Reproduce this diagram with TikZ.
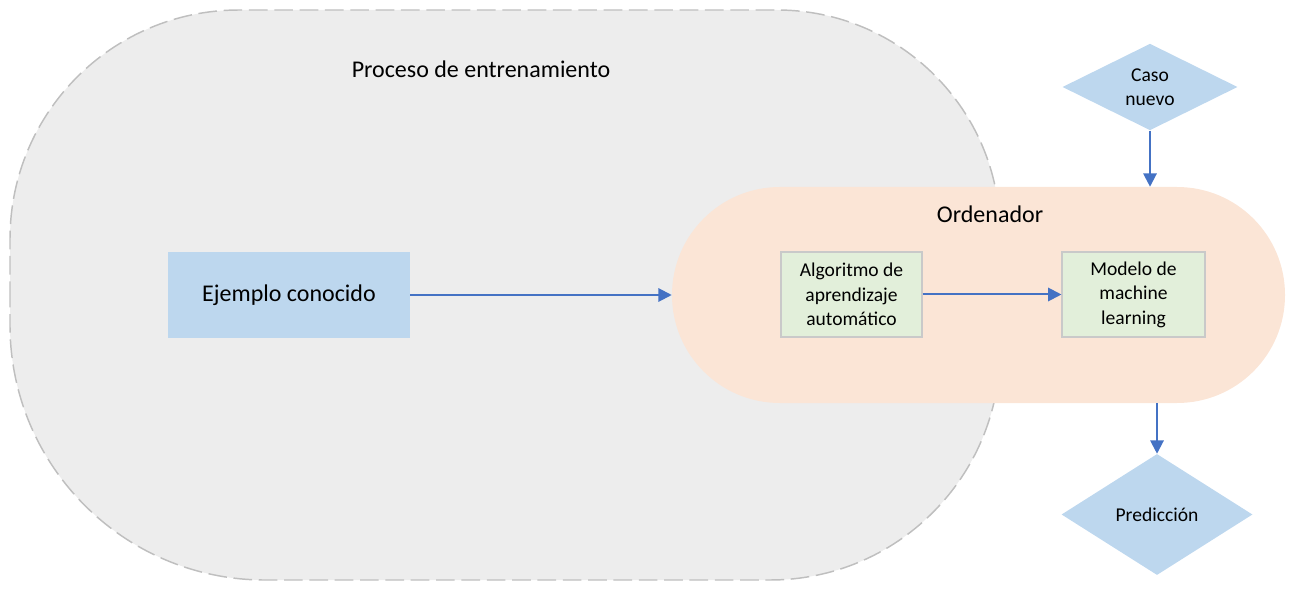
\documentclass[tikz,border=0pt]{standalone}
\usepackage{fontspec}
\setmainfont{Carlito}
\usetikzlibrary{shapes.geometric,arrows.meta}
\definecolor{grayfill}{HTML}{EDEDED}
\definecolor{grayline}{HTML}{BFBFBF}
\definecolor{orangefill}{HTML}{FBE5D6}
\definecolor{bluefill}{HTML}{BDD7EE}
\definecolor{greenfill}{HTML}{E2EFDA}
\definecolor{greenline}{HTML}{C9C9C9}
\definecolor{arrowblue}{HTML}{4472C4}
\tikzset{
  bigfont/.style={font=\fontsize{18}{22}\selectfont},
  smallfont/.style={font=\fontsize{14.67}{18.4}\selectfont},
  container/.style={fill=grayfill, draw=grayline, line width=1.1pt, dash pattern=on 14pt off 5pt},
  computer/.style={rectangle, fill=orangefill, rounded corners=80.9pt},
  inputbox/.style={rectangle, fill=bluefill, bigfont, inner sep=0pt},
  stagebox/.style={rectangle, fill=greenfill, draw=greenline, line width=0.8pt, smallfont, align=center, inner sep=0pt},
  io/.style={diamond, fill=bluefill, smallfont, align=center, inner sep=0pt},
  flow/.style={draw=arrowblue, line width=1.5pt, -{Triangle[length=10pt,width=10pt]}},
}
\begin{document}
\begin{tikzpicture}[x=0.75pt,y=-0.75pt]
\useasboundingbox (0,0) rectangle (1294,591);
\path[container] (10,300) -- (10,239) arc[start angle=180, end angle=90, radius=171.75pt]
  -- (777,10) arc[start angle=90, end angle=0, radius=167.25pt]
  -- (1000,350) arc[start angle=0, end angle=-90, radius=172.5pt]
  -- (265,580) arc[start angle=-90, end angle=-180, radius=191.25pt]
  -- cycle;
\node[bigfont] (traintitle) at (481,69) {Proceso de entrenamiento};
\node[computer, minimum width=459.75pt, minimum height=162pt] (ord) at (978.5,295) {};
\node[bigfont] (ordtitle) at (990,214) {Ordenador};
\node[inputbox, minimum width=181.5pt, minimum height=64.5pt] (ej) at (289,295) {Ejemplo conocido};
\node[stagebox, minimum width=105.75pt, minimum height=63.75pt] (alg) at (851.5,294.5) {Algoritmo de\\aprendizaje\\automático};
\node[stagebox, minimum width=107.25pt, minimum height=63.75pt] (mod) at (1133.5,294.5) {Modelo de\\machine\\learning};
\node[io, minimum width=131.25pt, minimum height=63.75pt] (caso) at (1150,87) {Caso\\nuevo};
\node[io, minimum width=143.25pt, minimum height=90.75pt] (pred) at (1157,514.5) {Predicción};
\draw[flow] (ej.east) -- (ord.west);
\draw[flow] (alg.east) -- (mod.west);
\draw[flow] (caso.south) -- (caso.south |- ord.north);
\draw[flow] (pred.north |- ord.south) -- (pred.north);
\end{tikzpicture}
\end{document}
